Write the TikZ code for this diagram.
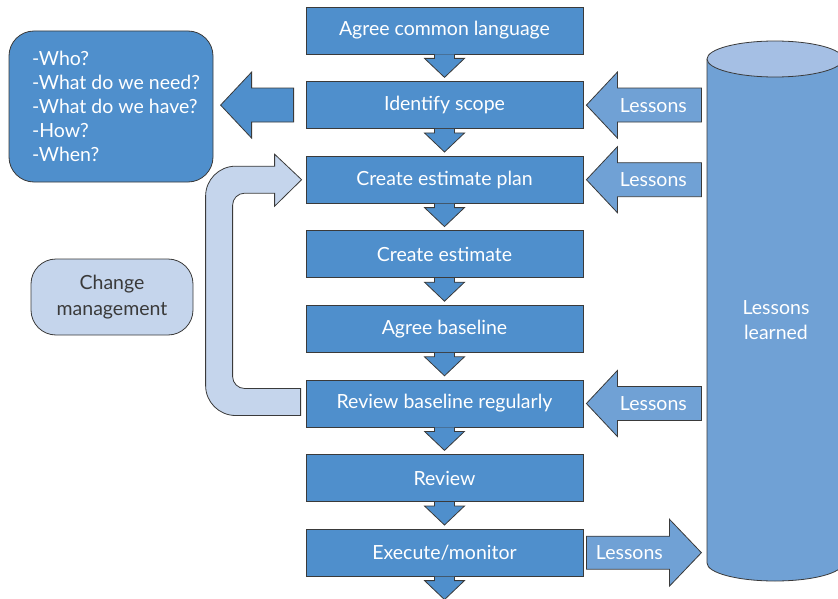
\documentclass[tikz,border=0pt]{standalone}
\usepackage{fontspec}
\setmainfont{Lato}
\usetikzlibrary{calc}
\definecolor{stepblue}{HTML}{4F8FCC}
\definecolor{lessblue}{HTML}{70A1D5}
\definecolor{paleblue}{HTML}{C5D5EC}
\definecolor{topblue}{HTML}{A5BFE4}
\definecolor{edgegray}{HTML}{3A3A3A}
\begin{document}
\begin{tikzpicture}[x=1pt,y=-1pt,line width=0.8pt,
	stepbox/.style={draw=edgegray,fill=stepblue,text=white,minimum width=277pt,minimum height=47pt,inner sep=0pt,font=\fontsize{19.5}{23}\selectfont},
	roundbox/.style={draw=edgegray,rounded corners=25pt,inner sep=0pt,font=\fontsize{19.5}{26}\selectfont},
	blockarr/.style={draw=edgegray,fill=stepblue},
	lessarr/.style={draw=edgegray,fill=lessblue},
	lesstext/.style={text=white,font=\fontsize{19.5}{25}\selectfont}]
		\clip (0,0) rectangle (838,599);
		% steps
		\foreach \t [count=\i] in {Agree common language,Identify scope,Create estimate plan,Create estimate,Agree baseline,Review baseline regularly,Review,Execute/monitor}
			\node[stepbox] (s\i) at (444.5,{30.5+74.6*(\i-1)}) {\t};
		\foreach \i in {1,...,8}
			\filldraw[blockarr] ($(s\i.south)+(-10,0)$) -- ++(0,4) -- ++(-10,0) -- ++(20,19) -- ++(20,-19) -- ++(-10,0) -- ++(0,-4);
		% questions
		\node[roundbox,fill=stepblue,minimum width=204pt,minimum height=151pt] (q) at (111,106.5) {};
		\node[anchor=west,inner sep=0pt,text=white,align=left,font=\fontsize{19.5}{24}\selectfont] (qt) at ($(q.west)+(23,0)$)
			{-Who?\\-What do we need?\\-What do we have?\\-How?\\-When?};
		\coordinate (qtip) at ($(s2.west)+(-85,0)$);
		\filldraw[blockarr] (qtip) -- ++(31,-33) -- ++(0,16) -- ++(42,0) -- ++(0,34) -- ++(-42,0) -- ++(0,16) -- cycle;
		% change management loop
		\node[roundbox,fill=paleblue,text=edgegray,minimum width=162pt,minimum height=76pt,align=center] (cm) at (112,297) {Change\\management};
		\filldraw[draw=edgegray,fill=paleblue] ($(s6.west)+(-5,-15)$) -- ++(-56,0) arc[start angle=90,end angle=180,radius=12]
			-- ($(s3.west)+(-73,25.5)$) arc[start angle=180,end angle=270,radius=12] -- ++(30,0) -- ++(0,13)
			-- ($(s3.west)+(-4,0)$) -- ++(-27,-25.5) -- ++(0,12) -- ++(-39,0) arc[start angle=270,end angle=180,radius=30]
			-- ($(s6.west)+(-100,-18)$) arc[start angle=180,end angle=90,radius=30] -- ($(s6.west)+(-5,12)$) -- cycle;
		% lessons learned
		\filldraw[draw=edgegray,fill=lessblue] (707,59) -- (707,563) arc[start angle=180,end angle=0,x radius=68,y radius=18] -- (843,59);
		\filldraw[draw=edgegray,fill=topblue] (775,59) ellipse[x radius=68,y radius=18];
		\node[lesstext,align=center] (ll) at (776,320.5) {Lessons\\learned};
		\foreach \i in {2,3,6}{
			\filldraw[lessarr] ($(s\i.east)+(3,0)$) -- ++(31,-33) -- ++(0,16) -- ++(84,0) -- ++(0,34) -- ++(-84,0) -- ++(0,16) -- cycle;
			\node[lesstext] (l\i) at ($(s\i.east)+(70,0)$) {Lessons};
		}
		\filldraw[lessarr] ($(s8.east)+(3,-16.5)$) -- ++(83,0) -- ++(0,-17) -- ++(32,33.5) -- ++(-32,33.5) -- ++(0,-17) -- ++(-83,0) -- cycle;
		\node[lesstext] (l8) at ($(s8.east)+(46,0)$) {Lessons};
\end{tikzpicture}
\end{document}
